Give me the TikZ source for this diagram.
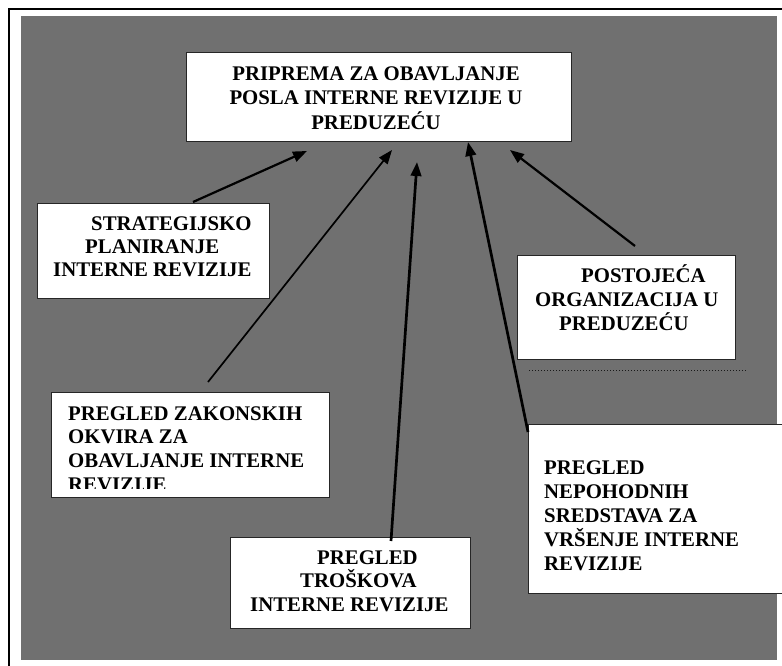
\documentclass[tikz,border=0pt]{standalone}
\usepackage{fontspec}
\setmainfont{Liberation Serif}
\usetikzlibrary{arrows.meta}
\definecolor{bggray}{RGB}{112,112,112}
\begin{document}
\begin{tikzpicture}[x=1pt,y=-1pt,
  box/.style={draw=black!85, line width=1.2pt, fill=white, anchor=north west, inner sep=0pt},
  txt/.style={inner sep=0pt, anchor=north west, align=left, font=\bfseries\fontsize{20.8}{#1}\selectfont},
  txt/.default=23.6,
  arr/.style={-{Triangle[length=14pt,width=10.5pt]}, line width=#1},
  arr/.default=1.8pt,
  dotline/.style={dotted, line width=1pt, black!90}]
\clip (0,0) rectangle (782,666);
\draw[line width=1.5pt] (9,9) rectangle (800,690);
\fill[bggray] (21,16) rectangle (777,660);
% boxes
\node[box, minimum width=385pt, minimum height=89pt] (title) at (186,52) {};
\node[box, minimum width=232pt, minimum height=95pt] (strat) at (37,203) {};
\node[box, minimum width=278pt, minimum height=105pt] (zak) at (51,392) {};
\node[box, minimum width=240pt, minimum height=91pt] (trosk) at (230,537) {};
\node[box, minimum width=218pt, minimum height=104pt] (post) at (517,255) {};
\node[box, minimum width=290pt, minimum height=169pt] (nep) at (528,424) {};
% texts
\node[txt=24.5, align=center, anchor=north] (titletext) at (376,60)
  {\rule{0pt}{20pt}PRIPREMA ZA OBAVLJANJE\\POSLA INTERNE REVIZIJE U\\PREDUZEĆU};
\node[txt=23] (strattext) at (53,210)
  {\rule{0pt}{20pt}\hspace*{38pt}STRATEGIJSKO\\\hspace*{32pt}PLANIRANJE\\INTERNE REVIZIJE};
\begin{scope}
\clip (51,392) rectangle (329,488);
\node[txt=23.7] (zaktext) at (68,400)
  {\rule{0pt}{20pt}PREGLED ZAKONSKIH\\OKVIRA ZA\\OBAVLJANJE INTERNE\\REVIZIJE};
\end{scope}
\node[txt=23.5] (trosktext) at (250,544)
  {\rule{0pt}{20pt}\hspace*{67pt}PREGLED\\\hspace*{50pt}TROŠKOVA\\INTERNE REVIZIJE};
\node[txt=24] (posttext) at (535,262)
  {\rule{0pt}{20pt}\hspace*{46pt}POSTOJEĆA\\ORGANIZACIJA U\\\hspace*{24pt}PREDUZEĆU};
\node[txt=24] (neptext) at (544,454)
  {\rule{0pt}{20pt}PREGLED\\NEPOHODNIH\\SREDSTAVA ZA\\VRŠENJE INTERNE\\REVIZIJE};
% dotted line
\coordinate (dl1) at (529,370);
\coordinate (dl2) at (746,370);
\draw[dotline] (dl1) -- (dl2);
% arrow ends
\coordinate (s1) at (193,202); \coordinate (t1) at (307,151);
\coordinate (s2) at (208,382); \coordinate (t2) at (392,150);
\coordinate (s3) at (391,541); \coordinate (t3) at (417,162);
\coordinate (s4) at (528,432); \coordinate (t4) at (468,142);
\coordinate (s5) at (635,246); \coordinate (t5) at (510,150);
\draw[arr=2.2pt] (s1) -- (t1);
\draw[arr=1.7pt] (s2) -- (t2);
\draw[arr=2.7pt] (s3) -- (t3);
\draw[arr=2.7pt] (s4) -- (t4);
\draw[arr=2.2pt] (s5) -- (t5);
\end{tikzpicture}
\end{document}
